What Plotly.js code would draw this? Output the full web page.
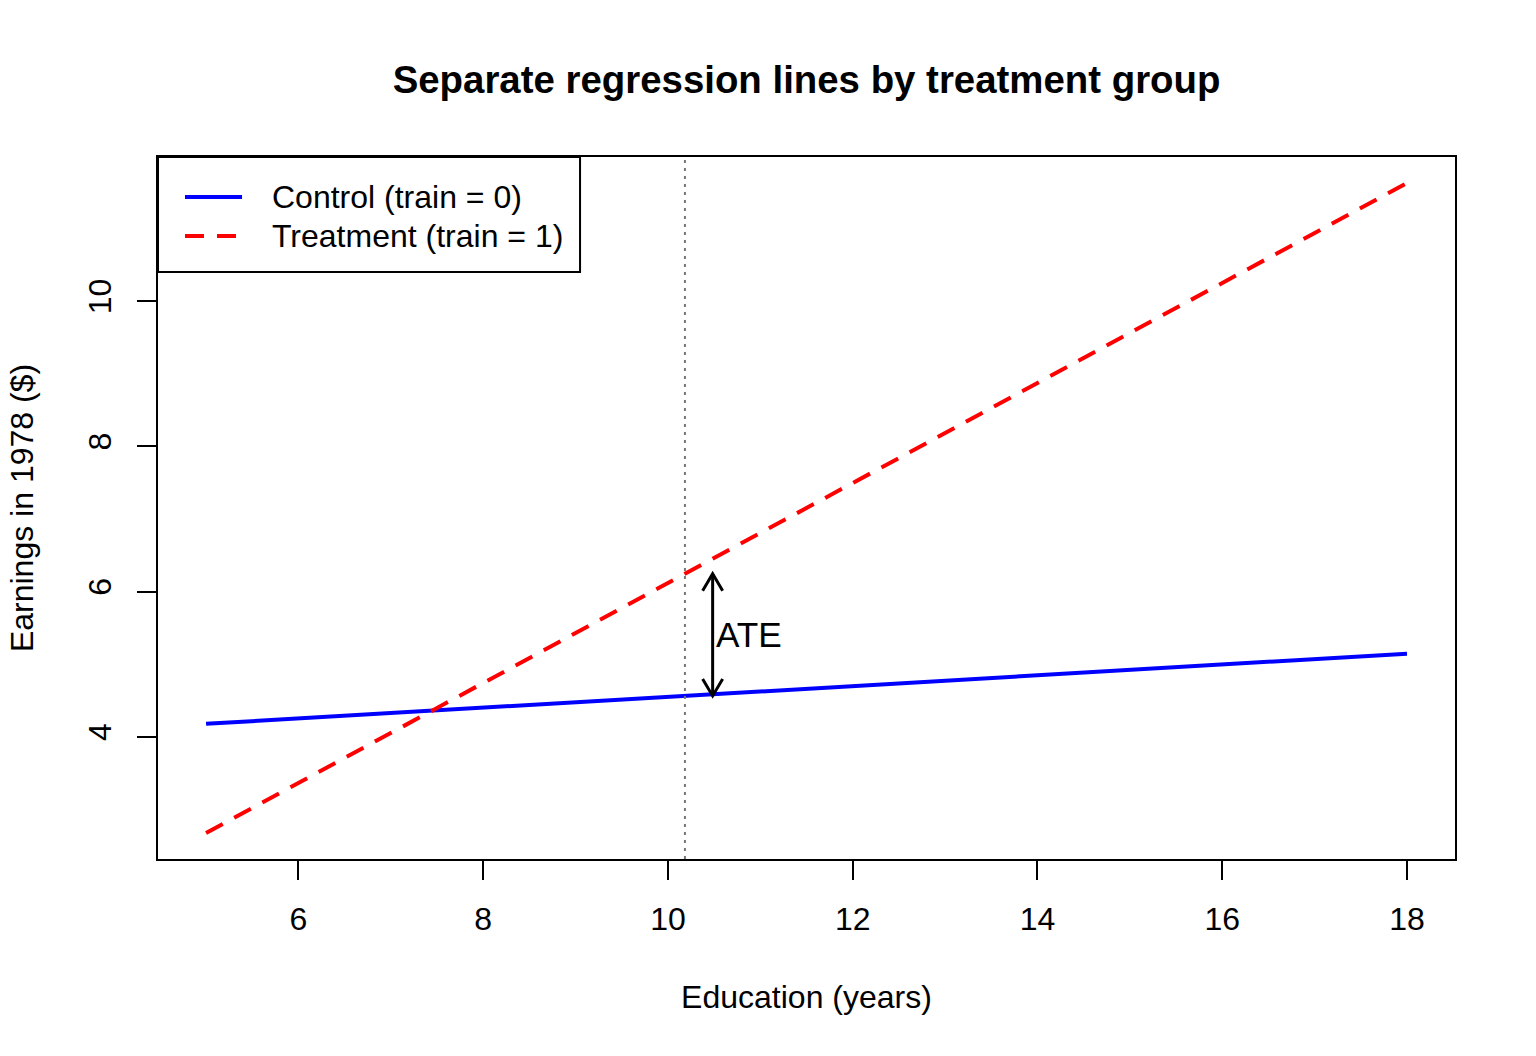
<!DOCTYPE html>
<html>
<head>
<meta charset="utf-8">
<script src="https://cdn.plot.ly/plotly-3.0.1.min.js"></script>
<style>html,body{margin:0;padding:0;background:#fff;}#chart{width:1536px;height:1056px;}</style>
</head>
<body>
<div id="chart"></div>
<script>
// ---- data ----
var educ = [5, 18];
var controlEarn = [4.179, 5.145];
var treatEarn = [2.676, 11.628];
var seriesNames = ["Control (train = 0)", "Treatment (train = 1)"];
var meanEduc = 10.184;
var arrowOffset = 0.3;
var ateLabel = "ATE";
var xTicks = [6, 8, 10, 12, 14, 16, 18];
var yTicks = [4, 6, 8, 10];
var chartTitle = "Separate regression lines by treatment group";
var xTitle = "Education (years)";
var yTitle = "Earnings in 1978 ($)";

var FONT = "Liberation Sans, Arial, Helvetica, sans-serif";

function lineAt(xs, ys, x) {
  return ys[0] + (ys[1] - ys[0]) * (x - xs[0]) / (xs[1] - xs[0]);
}
var ctrlAtMean = lineAt(educ, controlEarn, meanEduc);
var trtAtMean = lineAt(educ, treatEarn, meanEduc);
var arrowX = meanEduc + arrowOffset;

function padRange(a, b) { var d = (b - a) * 0.04; return [a - d, b + d]; }
var allY = controlEarn.concat(treatEarn);
var xRange = padRange(Math.min.apply(null, educ), Math.max.apply(null, educ));
var yRange = padRange(Math.min.apply(null, allY), Math.max.apply(null, allY));

var traces = [
  {x: educ, y: controlEarn, name: seriesNames[0], type: "scatter", mode: "lines",
   line: {color: "#0000FF", width: 4}, showlegend: false, hoverinfo: "skip"},
  {x: educ, y: treatEarn, name: seriesNames[1], type: "scatter", mode: "lines",
   line: {color: "#FF0000", width: 4, dash: "19px,13px"}, showlegend: false, hoverinfo: "skip"}
];

// legend geometry (paper fractions)
var legW = 0.3254, legH = 0.1638;
var shapes = [
  // mean education dotted line
  {type: "line", xref: "x", yref: "paper", x0: meanEduc, x1: meanEduc, y0: 0, y1: 1,
   line: {color: "#777777", width: 2, dash: "3px,5px"}},
  // arrow shaft
  {type: "line", xref: "x", yref: "y", x0: arrowX, x1: arrowX, y0: ctrlAtMean, y1: trtAtMean,
   line: {color: "#000", width: 3}},
  // arrow heads (pixel sized)
  {type: "path", xref: "x", yref: "y", xsizemode: "pixel", ysizemode: "pixel",
   xanchor: arrowX, yanchor: trtAtMean, path: "M-10,-17L0,0L10,-17",
   line: {color: "#000", width: 3}},
  {type: "path", xref: "x", yref: "y", xsizemode: "pixel", ysizemode: "pixel",
   xanchor: arrowX, yanchor: ctrlAtMean, path: "M-10,17L0,0L10,17",
   line: {color: "#000", width: 3}},
  // legend box
  {type: "rect", xref: "paper", yref: "paper", x0: 0, x1: legW, y0: 1 - legH, y1: 1,
   line: {color: "#000", width: 2}, fillcolor: "rgba(255,255,255,1)", layer: "above"},
  {type: "line", xref: "paper", yref: "paper", x0: 0.0208, x1: 0.0648, y0: 0.943, y1: 0.943,
   line: {color: "#0000FF", width: 4}, layer: "above"},
  {type: "line", xref: "paper", yref: "paper", x0: 0.0208, x1: 0.0648, y0: 0.8875, y1: 0.8875,
   line: {color: "#FF0000", width: 4, dash: "19px,13px"}, layer: "above"}
];

var annotations = [
  {x: arrowX, y: (ctrlAtMean + trtAtMean) / 2, xref: "x", yref: "y", text: ateLabel,
   showarrow: false, xanchor: "left", yanchor: "middle", xshift: 1,
   font: {family: FONT, size: 35.2, color: "#000"}},
  {x: 0.0887, y: 0.943, xref: "paper", yref: "paper", text: seriesNames[0], showarrow: false,
   xanchor: "left", yanchor: "middle", xshift: -3, font: {family: FONT, size: 32, color: "#000"}},
  {x: 0.0887, y: 0.8875, xref: "paper", yref: "paper", text: seriesNames[1], showarrow: false,
   xanchor: "left", yanchor: "middle", xshift: -3, font: {family: FONT, size: 32, color: "#000"}}
];

var layout = {
  width: 1536, height: 1056,
  margin: {l: 158, r: 81, t: 157, b: 197, pad: 0},
  paper_bgcolor: "#fff", plot_bgcolor: "#fff",
  font: {family: FONT, size: 32, color: "#000"},
  title: {text: chartTitle, x: 0.5251, xanchor: "center", xref: "container",
          y: 1 - 80 / 1056, yref: "container", yanchor: "middle",
          font: {family: FONT, size: 38.4, weight: "bold", color: "#000"}},
  xaxis: {range: xRange, tickvals: xTicks, ticktext: xTicks.map(String),
          ticks: "outside", ticklen: 19, tickwidth: 2, tickcolor: "#000",
          ticklabelstandoff: 12,
          showgrid: false, zeroline: false, showline: true, mirror: true,
          linewidth: 2, linecolor: "#000", tickfont: {family: FONT, size: 32},
          title: {text: xTitle, standoff: 49, font: {family: FONT, size: 32}}},
  yaxis: {range: yRange, tickvals: yTicks, ticktext: yTicks.map(String), tickangle: -90,
          ticks: "outside", ticklen: 19, tickwidth: 2, tickcolor: "#000",
          ticklabelstandoff: 13,
          showgrid: false, zeroline: false, showline: true, mirror: true,
          linewidth: 2, linecolor: "#000", tickfont: {family: FONT, size: 32},
          title: {text: yTitle, standoff: 39, font: {family: FONT, size: 32}}},
  shapes: shapes,
  annotations: annotations,
  showlegend: false
};

Plotly.newPlot("chart", traces, layout, {displayModeBar: false, staticPlot: true});
</script>
</body>
</html>
